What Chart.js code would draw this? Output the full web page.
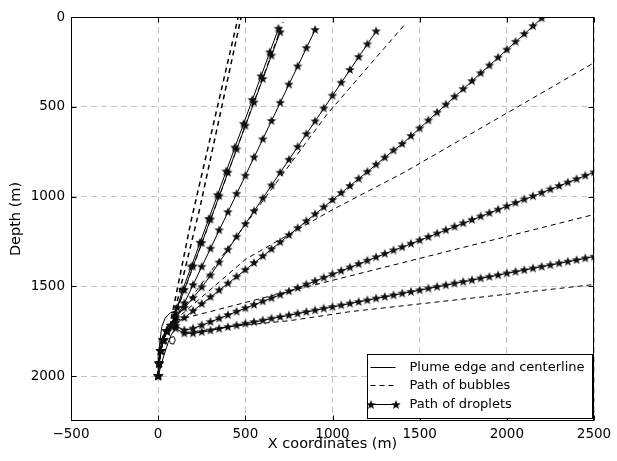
<!DOCTYPE html>
<html>
<head>
<meta charset="utf-8">
<script src="https://cdn.jsdelivr.net/npm/chart.js@4.4.0/dist/chart.umd.min.js"></script>
<style>
  html, body { margin: 0; padding: 0; background: #fff; }
</style>
</head>
<body>
<canvas id="plumeChart" width="617" height="461"></canvas>
<script>
// axis ticks
const xTicks = [-500, 0, 500, 1000, 1500, 2000, 2500];
const depthTicks = [0, 500, 1000, 1500, 2000];

// plume edges and centerline (x in m, depth in m)
const plumeLeftX = [0, 0, 11, 21, 40, 69, 95];
const plumeLeftDepth = [2000, 1890, 1800, 1725, 1677, 1648, 1640];
const plumeCenterX = [0, 5, 20, 45, 75, 100];
const plumeCenterDepth = [2000, 1900, 1800, 1740, 1700, 1680];
const plumeRightX = [0, 25, 48, 58, 70, 90, 98, 88, 70, 64, 75, 95, 110];
const plumeRightDepth = [2000, 1910, 1840, 1810, 1785, 1780, 1800, 1822, 1818, 1800, 1770, 1740, 1720];

// bubble paths
const bubble1X = [75, 190, 459];
const bubble1Depth = [1680, 1130, 0];
const bubble2X = [85, 240, 476];
const bubble2Depth = [1680, 1060, 0];
const bubble3X = [90, 400, 717];
const bubble3Depth = [1680, 870, 28];
const bubble4X = [90, 300, 520, 970, 1417];
const bubble4Depth = [1690, 1420, 1130, 540, 39];
const bubble5X = [95, 250, 500, 987, 1417, 2500];
const bubble5Depth = [1690, 1560, 1350, 1080, 862, 255];
const bubble6X = [100, 241, 700, 2087, 2500];
const bubble6Depth = [1690, 1655, 1540, 1201, 1100];
const bubble7X = [150, 450, 757, 1101, 2500];
const bubble7Depth = [1760, 1720, 1691, 1641, 1490];

// droplet paths, one marker per output step
const dropletAX1 = [0, 5, 15, 30, 50, 75, 100, 140, 190, 240, 290, 340, 390, 440, 490, 540, 590, 640, 690];
const dropletA1 = [2000, 1930, 1860, 1800, 1750, 1720, 1650, 1520, 1390, 1257, 1125, 992, 860, 727, 595, 462, 330, 197, 65];
const dropletAX2 = [0, 5, 15, 30, 50, 75, 110, 150, 200, 250, 300, 350, 400, 450, 500, 550, 600, 650, 700];
const dropletA2 = [2000, 1930, 1860, 1800, 1750, 1720, 1620, 1520, 1389, 1259, 1128, 998, 867, 737, 606, 476, 345, 215, 85];

const dropletX = [0, 5, 15, 30, 50, 75, 100, 150, 200, 250, 300, 350, 400, 450, 500, 550, 600, 650, 700,
  750, 800, 850, 900, 950, 1000, 1050, 1100, 1150, 1200, 1250, 1300, 1350, 1400, 1450, 1500, 1550, 1600,
  1650, 1700, 1750, 1800, 1850, 1900, 1950, 2000, 2050, 2100, 2150, 2200, 2250, 2300, 2350, 2400, 2450, 2500];
const dropletB = [2000, 1930, 1860, 1800, 1750, 1720, 1680, 1594, 1493, 1391, 1290, 1188, 1087, 985, 884,
  782, 681, 579, 478, 376, 275, 173, 72];
const dropletC = [2000, 1930, 1860, 1800, 1750, 1720, 1670, 1620, 1565, 1505, 1439, 1367, 1296, 1224, 1153,
  1081, 1010, 938, 867, 795, 724, 652, 581, 509, 438, 366, 295, 223, 152, 80];
const dropletD = [2000, 1930, 1860, 1800, 1750, 1720, 1705, 1676, 1637, 1598, 1560, 1522, 1484, 1446, 1408,
  1370, 1332, 1293, 1254, 1215, 1176, 1137, 1098, 1059, 1019, 980, 941, 901, 862, 822, 783, 743, 707, 663,
  620, 576, 532, 488, 444, 401, 357, 313, 270, 226, 182, 138, 95, 51, 7];
const dropletE = [2000, 1930, 1860, 1800, 1750, 1720, 1720, 1745, 1735, 1717, 1698, 1679, 1660, 1641, 1622,
  1603, 1584, 1566, 1547, 1528, 1509, 1490, 1471, 1452, 1433, 1414, 1395, 1376, 1357, 1338, 1319, 1300,
  1282, 1263, 1244, 1225, 1206, 1187, 1168, 1149, 1130, 1111, 1092, 1073, 1054, 1035, 1016, 998, 979, 960,
  941, 922, 903, 884, 865];
const dropletF = [2000, 1930, 1860, 1800, 1750, 1720, 1735, 1762, 1762, 1755, 1746, 1736, 1727, 1718, 1708,
  1699, 1690, 1680, 1671, 1662, 1652, 1643, 1634, 1624, 1615, 1606, 1596, 1587, 1578, 1568, 1559, 1550,
  1540, 1531, 1522, 1512, 1503, 1494, 1484, 1475, 1466, 1456, 1447, 1438, 1428, 1419, 1410, 1400, 1391,
  1382, 1372, 1363, 1354, 1344, 1335];

const legendLabels = ['Plume edge and centerline', 'Path of bubbles', 'Path of droplets'];

const FONT = '"DejaVu Sans", sans-serif';

// filled five-point star used as the droplet marker
function makeStar(r) {
  const s = Math.ceil(r * 2 + 2);
  const c = document.createElement('canvas');
  c.width = s; c.height = s;
  const g = c.getContext('2d');
  g.beginPath();
  for (let i = 0; i < 10; i++) {
    const rad = i % 2 ? r * 0.42 : r;
    const a = -Math.PI / 2 + i * Math.PI / 5;
    const px = s / 2 + rad * Math.cos(a), py = s / 2 + rad * Math.sin(a);
    if (i) g.lineTo(px, py); else g.moveTo(px, py);
  }
  g.closePath();
  g.fillStyle = '#111';
  g.fill();
  return c;
}
const starImg = makeStar(5);

function pts(xs, ds) {
  return ds.map((d, i) => ({ x: xs[i], y: d }));
}

function solid(xs, ds) {
  return { data: pts(xs, ds), borderColor: '#000', borderWidth: 1, pointRadius: 0 };
}
function dashed(xs, ds, w) {
  return { data: pts(xs, ds), borderColor: '#000', borderWidth: w || 1, borderDash: [5, 4], pointRadius: 0 };
}
function starred(xs, ds) {
  return {
    data: pts(xs, ds), borderColor: '#000', borderWidth: 1,
    pointStyle: starImg, pointRadius: 5, pointHoverRadius: 5
  };
}

const datasets = [
  solid(plumeLeftX, plumeLeftDepth),
  solid(plumeCenterX, plumeCenterDepth),
  solid(plumeRightX, plumeRightDepth),
  dashed(bubble1X, bubble1Depth, 1.5),
  dashed(bubble2X, bubble2Depth, 1.5),
  dashed(bubble3X, bubble3Depth),
  dashed(bubble4X, bubble4Depth),
  dashed(bubble5X, bubble5Depth),
  dashed(bubble6X, bubble6Depth),
  dashed(bubble7X, bubble7Depth),
  starred(dropletAX1, dropletA1),
  starred(dropletAX2, dropletA2),
  starred(dropletX, dropletB),
  starred(dropletX, dropletC),
  starred(dropletX, dropletD),
  starred(dropletX, dropletE),
  starred(dropletX, dropletF)
];

// frame plus inward tick marks on all four sides
const framePlugin = {
  id: 'frame',
  afterDatasetsDraw(chart) {
    const { ctx, chartArea: a, scales: { x, y } } = chart;
    const L = Math.round(a.left) + 0.5, R = Math.round(a.right) - 0.5;
    const T = Math.round(a.top) + 0.5, B = Math.round(a.bottom) - 0.5;
    ctx.save();
    ctx.setLineDash([]);
    ctx.strokeStyle = '#000';
    ctx.lineWidth = 1;
    ctx.beginPath();
    xTicks.forEach(v => {
      const p = Math.round(x.getPixelForValue(v)) + 0.5;
      ctx.moveTo(p, T); ctx.lineTo(p, T + 5);
      ctx.moveTo(p, B); ctx.lineTo(p, B - 5);
    });
    depthTicks.forEach(v => {
      const p = Math.round(y.getPixelForValue(v)) + 0.5;
      ctx.moveTo(L, p); ctx.lineTo(L + 5, p);
      ctx.moveTo(R, p); ctx.lineTo(R - 5, p);
    });
    ctx.stroke();
    ctx.strokeRect(L, T, R - L, B - T);
    ctx.restore();
  }
};

function drawStar(ctx, cx, cy) {
  ctx.drawImage(starImg, Math.round(cx - starImg.width / 2), Math.round(cy - starImg.height / 2));
}

const legendPlugin = {
  id: 'boxLegend',
  afterDraw(chart) {
    const { ctx, chartArea: a } = chart;
    const bw = 225, bh = 64;
    const bx = Math.round(a.right) - 227 + 0.5, by = Math.round(a.bottom) - 67 + 0.5;
    ctx.save();
    ctx.fillStyle = '#fff';
    ctx.fillRect(bx, by, bw, bh);
    ctx.strokeStyle = '#000';
    ctx.lineWidth = 1;
    ctx.setLineDash([]);
    ctx.strokeRect(bx, by, bw, bh);
    const rows = [12, 30, 49];
    const x0 = bx + 3, x1 = bx + 28;
    ctx.font = '13px ' + FONT;
    ctx.textBaseline = 'middle';
    ctx.fillStyle = '#000';
    rows.forEach((dy, i) => {
      const yy = Math.round(by + dy) + 0.5;
      ctx.beginPath();
      ctx.setLineDash(i === 1 ? [5, 4] : []);
      ctx.moveTo(x0, yy); ctx.lineTo(x1, yy);
      ctx.stroke();
      if (i === 2) { drawStar(ctx, x0, yy); drawStar(ctx, x1, yy); }
      ctx.fillText(legendLabels[i], bx + 42, yy);
    });
    ctx.restore();
  }
};

const ctx = document.getElementById('plumeChart').getContext('2d');
new Chart(ctx, {
  type: 'scatter',
  data: { datasets: datasets.map(d => Object.assign({ showLine: true, fill: false, tension: 0 }, d)) },
  options: {
    responsive: false,
    animation: false,
    devicePixelRatio: 1,
    layout: { padding: { left: 0, top: 17, right: 23, bottom: 0 } },
    plugins: { legend: { display: false }, tooltip: { enabled: false } },
    scales: {
      x: {
        type: 'linear', min: -500, max: 2500,
        afterBuildTicks: s => { s.ticks = xTicks.map(v => ({ value: v })); },
        afterFit: s => { s.height = 40; },
        grid: { color: '#c4c4c4', lineWidth: 1, drawTicks: false },
        border: { display: false, dash: [6, 4] },
        ticks: {
          color: '#000', padding: 5, maxRotation: 0,
          font: { family: FONT, size: 13.5 },
          callback: v => (v < 0 ? '\u2212' + Math.abs(v) : String(v))
        },
        title: { display: true, text: 'X coordinates (m)', color: '#000', font: { family: FONT, size: 14.5 }, padding: { top: 0, bottom: 8 } }
      },
      y: {
        type: 'linear', min: 0, max: 2250, reverse: true,
        afterBuildTicks: s => { s.ticks = depthTicks.map(v => ({ value: v })); },
        afterFit: s => { s.width = 71; },
        grid: { color: '#c4c4c4', lineWidth: 1, drawTicks: false },
        border: { display: false, dash: [6, 4] },
        ticks: { color: '#000', padding: 6, font: { family: FONT, size: 13.5 }, callback: v => String(v) },
        title: { display: true, text: 'Depth (m)', color: '#000', font: { family: FONT, size: 14.5 }, padding: { top: 8, bottom: 0 } }
      }
    }
  },
  plugins: [framePlugin, legendPlugin]
});
</script>
</body>
</html>
